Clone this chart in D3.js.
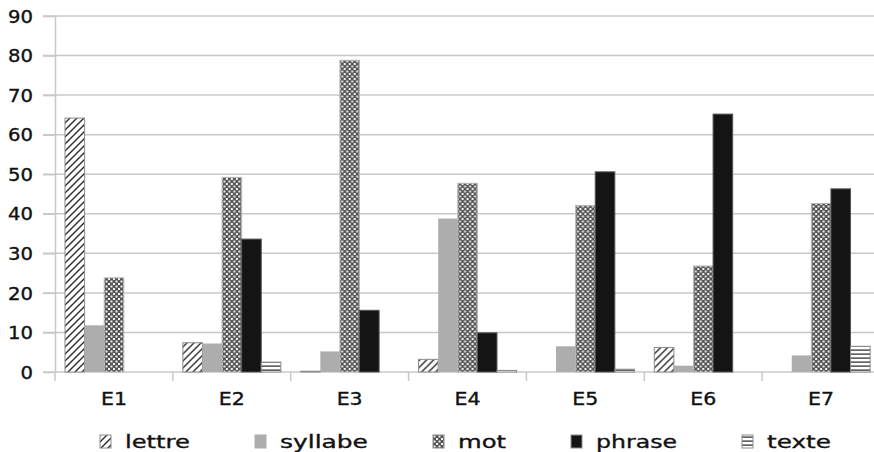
<!DOCTYPE html>
<html>
<head>
<meta charset="utf-8">
<script src="https://cdn.jsdelivr.net/npm/d3@7"></script>
<style>
  body { margin: 0; background: #fff; }
  text { font-family: "DejaVu Sans", sans-serif; fill: #111; stroke: #111; stroke-width: 0.35px; }
</style>
</head>
<body>
<div id="chart-div"></div>
<script>
const categories = ["E1", "E2", "E3", "E4", "E5", "E6", "E7"];
const seriesNames = ["lettre", "syllabe", "mot", "phrase", "texte"];

const lettre  = [64.2, 7.4, 0.2, 3.2, 0, 6.2, 0];
const syllabe = [11.8, 7.2, 5.2, 38.8, 6.5, 1.6, 4.2];
const mot     = [23.8, 49.2, 78.8, 47.7, 42.1, 26.8, 42.6];
const phrase  = [0, 33.6, 15.6, 9.9, 50.6, 65.2, 46.3];
const texte   = [0, 2.5, 0, 0.4, 0.7, 0, 6.5];

const yTicks = [0, 10, 20, 30, 40, 50, 60, 70, 80, 90];

const values = { lettre, syllabe, mot, phrase, texte };

const width = 874;
const height = 452;

const svg = d3.select("#chart-div")
    .append("svg")
    .attr("width", width)
    .attr("height", height);

// stretch text horizontally to a target width (the original is squashed wide)
function stretch(sel, x, y, target) {
    sel.each(function(d) {
        const t = d3.select(this);
        const w = this.getComputedTextLength();
        const s = target(d) / w;
        t.attr("x", 0).attr("y", 0)
            .attr("transform", "translate(" + x(d) + "," + y(d) + ") scale(" + s + ",1)");
    });
}

// fill patterns, Excel-style black & white
const defs = svg.append("defs");

const hatch = defs.append("pattern")
    .attr("id", "p-lettre")
    .attr("patternUnits", "userSpaceOnUse")
    .attr("width", 7).attr("height", 7);
hatch.append("rect").attr("width", 7).attr("height", 7).attr("fill", "#fff");
hatch.append("path")
    .attr("d", "M-1,8 L8,-1 M-2,2 L2,-2 M5,9 L9,5")
    .attr("stroke", "#2a2a2a").attr("stroke-width", 1.4);

const checker = defs.append("pattern")
    .attr("id", "p-mot")
    .attr("patternUnits", "userSpaceOnUse")
    .attr("width", 5).attr("height", 5);
checker.append("rect").attr("width", 5).attr("height", 5).attr("fill", "#555");
checker.append("rect").attr("x", 0.5).attr("y", 0.5).attr("width", 2).attr("height", 2).attr("fill", "#f2f2f2");
checker.append("rect").attr("x", 3).attr("y", 3).attr("width", 2).attr("height", 2).attr("fill", "#f2f2f2");

const lines = defs.append("pattern")
    .attr("id", "p-texte")
    .attr("patternUnits", "userSpaceOnUse")
    .attr("width", 4).attr("height", 4);
lines.append("rect").attr("width", 4).attr("height", 4).attr("fill", "#fff");
lines.append("rect").attr("y", 1.5).attr("width", 4).attr("height", 1.2).attr("fill", "#222");

const fills = {
    lettre: "url(#p-lettre)",
    syllabe: "#adadad",
    mot: "url(#p-mot)",
    phrase: "#141414",
    texte: "url(#p-texte)"
};
const strokes = {
    lettre: "#8c8c8c",
    syllabe: "none",
    mot: "#b5b5b5",
    phrase: "#555",
    texte: "#8c8c8c"
};

// scales
const x0 = d3.scaleBand()
    .domain(categories)
    .range([55, 880]);

const x1 = d3.scaleBand()
    .domain(seriesNames)
    .range([10, 108]);

const yScale = d3.scaleLinear()
    .domain([0, 90])
    .range([372, 16]);

// gridlines
svg.append("g").selectAll("line").data(yTicks).enter().append("line")
    .attr("x1", 43)
    .attr("x2", width)
    .attr("y1", d => yScale(d))
    .attr("y2", d => yScale(d))
    .attr("stroke", "#c8c8c8")
    .attr("stroke-width", 1.5);

// y axis
const yAxis = svg.append("g")
    .attr("transform", "translate(55,0)")
    .call(d3.axisLeft(yScale)
        .tickValues(yTicks)
        .tickSize(12)
        .tickSizeOuter(0)
        .tickPadding(10));
yAxis.select(".domain").attr("stroke", "#c8c8c8").attr("stroke-width", 1.5);
yAxis.selectAll(".tick line").attr("stroke", "#c8c8c8").attr("stroke-width", 1.5);
yAxis.selectAll(".tick text")
    .attr("font-size", 17)
    .attr("dy", "0.36em")
    .call(stretch, d => -22, d => 0, d => String(d).length * 12.5);

// category separators
const bounds = categories.map(c => x0(c)).concat([x0.range()[1]]);
svg.append("g").selectAll("line").data(bounds).enter().append("line")
    .attr("x1", d => d)
    .attr("x2", d => d)
    .attr("y1", 372)
    .attr("y2", 381)
    .attr("stroke", "#c8c8c8")
    .attr("stroke-width", 1.5);

// category labels
svg.append("g").selectAll("text").data(categories).enter().append("text")
    .text(d => d)
    .attr("text-anchor", "middle")
    .attr("font-size", 18)
    .call(stretch, d => x0(d) + x0.bandwidth() / 2, d => 405, d => 26);

// bars
const groups = svg.append("g").selectAll("g").data(categories).enter().append("g")
    .attr("transform", d => "translate(" + x0(d) + ",0)");

groups.selectAll("rect")
    .data((c, i) => seriesNames.map(s => ({ key: s, value: values[s][i] })))
    .enter().append("rect")
    .filter(d => d.value > 0)
    .attr("x", d => x1(d.key))
    .attr("width", x1.bandwidth())
    .attr("y", d => yScale(d.value))
    .attr("height", d => yScale(0) - yScale(d.value))
    .attr("fill", d => fills[d.key])
    .attr("stroke", d => strokes[d.key])
    .attr("stroke-width", 1);

// legend
const legendWidths = { lettre: 65, syllabe: 88, mot: 48, phrase: 81, texte: 64 };
let lx = 100;
const legendPos = seriesNames.map(s => {
    const p = lx;
    lx += 25 + legendWidths[s] + 65;
    return p;
});

const legend = svg.append("g").selectAll("g").data(seriesNames).enter().append("g")
    .attr("transform", (d, i) => "translate(" + legendPos[i] + ",435)");

legend.append("rect")
    .attr("width", 11)
    .attr("height", 13)
    .attr("fill", d => fills[d])
    .attr("stroke", d => d === "syllabe" ? "#adadad" : "#8c8c8c")
    .attr("stroke-width", 1);

legend.append("text")
    .text(d => d)
    .attr("font-size", 18)
    .call(stretch, d => 25, d => 13, d => legendWidths[d]);
</script>
</body>
</html>
